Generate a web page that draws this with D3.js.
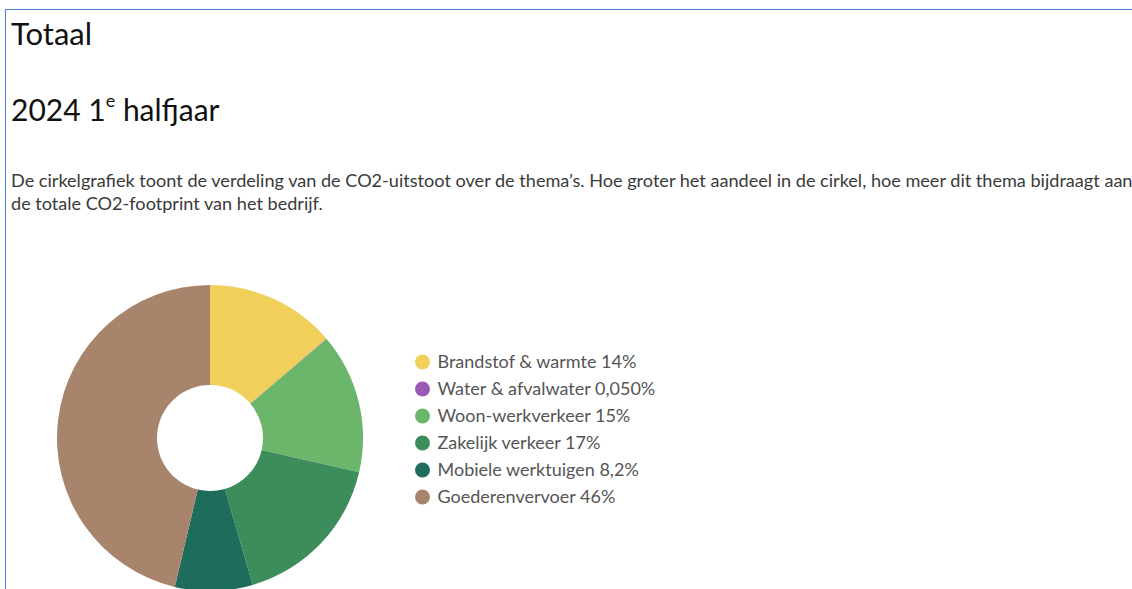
<!DOCTYPE html>
<html lang="nl">
<head>
<meta charset="UTF-8">
<title>Totaal</title>
<script src="https://cdn.jsdelivr.net/npm/d3@7"></script>
<style>
  body { margin: 0; background: #fff; overflow: hidden; font-family: "Source Sans Pro", Lato, "Noto Sans", sans-serif; }
  .kader { position: absolute; left: 5px; top: 9px; width: 1140px; height: 600px;
           border-top: 1px solid #4f7bd0; border-left: 1px solid #4f7bd0; }
  h1, h2 { position: absolute; left: 5px; margin: 0; font-weight: 400; color: #111; white-space: nowrap; }
  h1 { top: 4px; font-size: 31px; }
  h2 { top: 81px; font-size: 30px; }
  h2 sup { font-size: 18px; position: relative; top: -2px; vertical-align: top; }
  p { position: absolute; left: 5px; top: 159px; margin: 0; font-size: 18.1px; line-height: 23px; color: #3a3a3a; white-space: nowrap; }
  #grafiek { position: absolute; left: 0; top: 0; }
</style>
</head>
<body>
<div class="kader">
  <h1>Totaal</h1>
  <h2>2024 1<sup>e</sup> halfjaar</h2>
  <p>De cirkelgrafiek toont de verdeling van de CO2-uitstoot over de thema’s. Hoe groter het aandeel in de cirkel, hoe meer dit thema bijdraagt aan<br>de totale CO2-footprint van het bedrijf.</p>
</div>
<div id="grafiek"></div>

<script>
thema = ['Brandstof & warmte', 'Water & afvalwater', 'Woon-werkverkeer',
         'Zakelijk verkeer', 'Mobiele werktuigen', 'Goederenvervoer']
aandeel = [13.75, 0.05, 14.8, 16.9, 8.2, 46.3]
labels  = ['14%', '0,050%', '15%', '17%', '8,2%', '46%']
kleuren = ['#f0cf5a', '#9b59b6', '#6bb66b', '#3d8c5c', '#1d6c5c', '#a8846c']

data = thema.map((t, i) => ({ thema: t, waarde: aandeel[i], label: labels[i] }))

svg = d3.select('#grafiek')
        .append('svg')
        .attr('width', 1132)
        .attr('height', 589)

kleur = d3.scaleOrdinal().domain(thema).range(kleuren)

pie = d3.pie()
        .sort(null)
        .value(d => d.waarde)

arc = d3.arc()
        .innerRadius(53)
        .outerRadius(153)

g = svg.append('g')
       .attr('transform', 'translate(210,438)')

g.selectAll('path')
  .data(pie(data))
  .enter()
  .append('path')
  .attr('d', arc)
  .attr('fill', d => kleur(d.data.thema))

// legenda
y = d3.scalePoint()
      .domain(thema)
      .range([362, 497])

legenda = svg.selectAll('.item')
             .data(data)
             .enter()
             .append('g')
             .attr('class', 'item')
             .attr('transform', d => 'translate(422.5,' + y(d.thema) + ')')

legenda.append('circle')
       .attr('r', 7.5)
       .attr('fill', d => kleur(d.thema))

legenda.append('text')
       .attr('x', 15)
       .attr('dy', '0.35em')
       .attr('font-size', 18)
       .attr('fill', '#555')
       .text(d => d.thema + ' ' + d.label)
</script>
</body>
</html>
